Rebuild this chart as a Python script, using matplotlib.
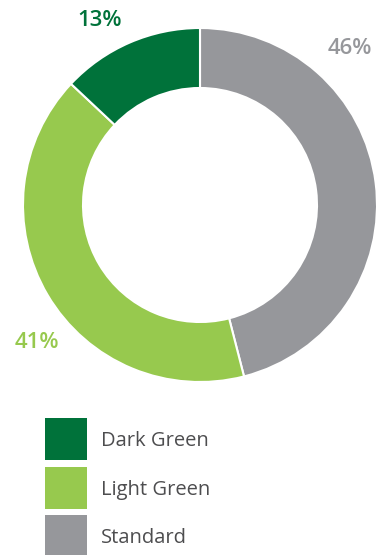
import matplotlib.pyplot as plt
from matplotlib.patches import Rectangle

# data
LABELS = ["Standard", "Light Green", "Dark Green"]
VALUES = [46, 41, 13]
COLORS = ["#96979b", "#97c94e", "#00723a"]
LEGEND_ORDER = ["Dark Green", "Light Green", "Standard"]

# layout (pixels in a 379x555 figure)
W, H = 379, 555
CX, CY, R_OUT, R_IN = 200, 205, 177, 117
LABEL_POS = {"Standard": (350, 49), "Light Green": (37, 342), "Dark Green": (100, 20)}
TEXT_GREY = "#4d4d4f"

plt.rcParams["font.family"] = ["Open Sans", "DejaVu Sans"]

fig = plt.figure(figsize=(W / 100, H / 100), dpi=100)
ax = fig.add_axes([(CX - R_OUT) / W, (H - CY - R_OUT) / H, 2 * R_OUT / W, 2 * R_OUT / H])
ax.pie(VALUES, colors=COLORS, startangle=90, counterclock=False, radius=1,
       wedgeprops=dict(width=(R_OUT - R_IN) / R_OUT, edgecolor="white", linewidth=1.5))
ax.set_xlim(-1, 1)
ax.set_ylim(-1, 1)
ax.set_aspect("equal")
ax.axis("off")

# percentage labels
for lab, val, col in zip(LABELS, VALUES, COLORS):
    px, py = LABEL_POS[lab]
    fig.text(px / W, 1 - py / H, f"{val}%", color=col, fontsize=16,
             fontweight="semibold", ha="center", va="center")

# legend
for i, lab in enumerate(LEGEND_ORDER):
    col = COLORS[LABELS.index(lab)]
    top = 418 + i * 48.5
    fig.add_artist(Rectangle((45 / W, 1 - (top + 42) / H), 42 / W, 42 / H,
                             transform=fig.transFigure, facecolor=col, edgecolor="none"))
    fig.text(101 / W, 1 - (top + 23) / H, lab, color=TEXT_GREY, fontsize=14.5,
             ha="left", va="center")

fig.savefig("out.png", dpi=100)
